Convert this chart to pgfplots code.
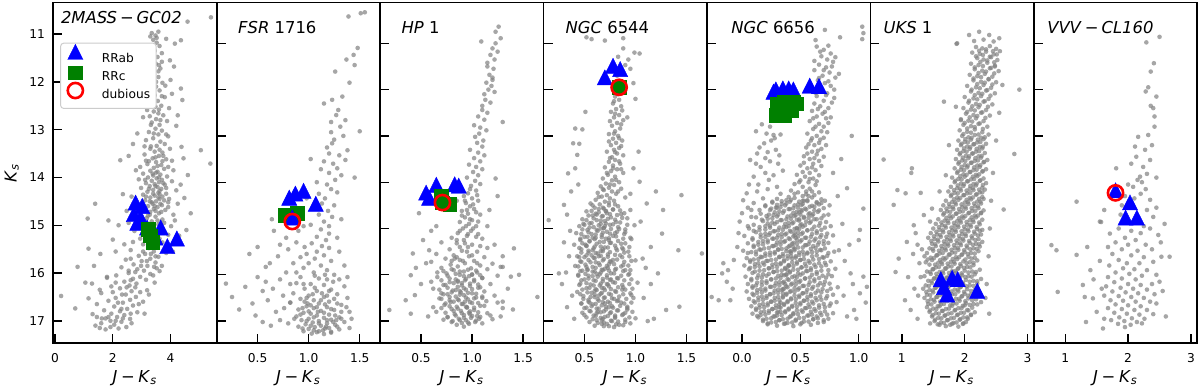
\documentclass[border=0pt]{standalone}
\usepackage{fontspec}
\setmainfont{DejaVu Sans}
\usepackage{pgfplots}
\pgfplotsset{compat=1.18}
\definecolor{mgreen}{rgb}{0,0.5,0}
\newcommand{\tfont}{\fontsize{8.2}{9}\selectfont}
\newcommand{\kfont}{\fontsize{6.1}{7}\selectfont}
\newcommand{\JK}{\textit{J}\hspace{0.22em}−\hspace{0.22em}\textit{K}\textsubscript{\textit{s}}}
\tikzset{ttl/.style={anchor=base west, inner sep=0pt, font=\tfont}}
\pgfplotsset{
 limg/.style={legend image code/.code={%
   \path[draw=none, fill=none] (0pt,0.7pt) rectangle (17.65pt,6.7pt);
   \draw[overlay, mark repeat=2,mark phase=2,##1] plot coordinates {(0pt,2.5pt)(6.35pt,2.5pt)(12.7pt,2.5pt)};}},
 panel/.style={
   at={(#1)}, anchor=south west, scale only axis, width=81.71pt, height=170.4pt,
   y dir=reverse, ymin=10.118, ymax=17.48,
   ytick={11,12,13,14,15,16,17}, yticklabels={},
   tick align=inside, xtick pos=left, ytick pos=left,
   major tick length=4.5pt,
   major tick style={black, line width=0.7pt},
   axis line style={line width=0.85pt},
   tick label style={font=\kfont, inner sep=0pt},
   xticklabel style={yshift=-5pt},
   yticklabel style={xshift=-4pt},
   xlabel={\JK},
   every axis x label/.style={at={(axis description cs:0.5,-0.1136)}, anchor=base, inner sep=0pt, font=\tfont},
 },
 gdots/.style={only marks, mark=*, mark size=1.15pt, mark options={draw=gray, fill=gray, line width=0pt, fill opacity=0.7, draw opacity=0}, forget plot},
 rrab/.style={only marks, mark=triangle*, mark size=4.4pt, mark options={draw=blue, fill=blue, line width=0.2pt, yscale=1.15, sharp corners}, limg},
 rrc/.style={only marks, mark=square*, mark size=3.4pt, mark options={draw=mgreen, fill=mgreen, line width=0.2pt, sharp corners}, limg},
 dub/.style={only marks, mark=o, mark size=3.8pt, mark options={draw=red, fill=none, line width=1.3pt}, limg},
}
\begin{document}
\begin{tikzpicture}
\path[use as bounding box] (0,0) rectangle (600pt,195.5pt);
% ---------------- Panel 1 : 2MASS-GC02
\begin{axis}[panel={26.65pt,23.85pt}, xmin=-0.06, xmax=5.60, xtick={0,2,4}, xticklabels={0,2,4},
  ymin=10.34, ymax=17.47, yticklabels={11,12,13,14,15,16,17},
  ylabel={\textit{K}\textsubscript{\textit{s}}},
  every axis y label/.style={at={(axis description cs:-0.224,0.5)}, rotate=90, anchor=base, inner sep=0pt, font=\tfont},
  legend style={at={(axis description cs:0.042,0.882)}, anchor=north west, draw=black!20, line width=0.5pt, fill=white, rounded corners=1.5pt, inner xsep=1pt, inner ysep=1.4pt, font=\kfont, row sep=-2.7pt},
  legend cell align=left]
\addplot[gdots] table {
x y
3.35 10.98
3.48 11.03
3.58 10.95
5.40 10.65
4.59 10.74
3.40 11.12
3.52 11.18
3.62 11.25
3.31 11.30
3.45 11.35
4.36 11.13
3.70 11.40
3.10 11.44
3.55 11.48
3.38 11.55
3.49 11.62
4.12 11.68
3.65 11.72
3.28 11.78
3.42 11.85
3.58 11.90
4.00 11.96
3.72 12.02
3.35 12.05
3.50 12.10
4.36 12.14
3.62 12.18
3.20 12.22
3.45 12.28
3.80 12.32
4.41 12.38
3.56 12.40
3.30 12.45
3.68 12.50
3.95 12.55
3.19 12.59
3.42 12.62
3.58 12.66
3.75 12.70
3.05 12.74
3.50 12.78
3.88 12.82
3.35 12.85
3.62 12.90
4.20 12.92
2.85 13.08
3.48 12.98
3.70 13.02
3.25 13.05
3.58 13.10
3.92 13.14
3.40 13.18
3.15 13.22
3.65 13.25
3.80 13.30
3.52 13.34
4.38 13.36
3.30 13.40
5.05 13.43
3.45 13.46
3.72 13.48
3.10 13.52
3.60 13.55
2.26 13.64
3.38 13.60
3.85 13.62
5.38 13.71
3.50 13.68
3.20 13.72
3.68 13.74
2.95 13.78
3.42 13.80
3.78 13.82
4.10 13.85
3.30 13.86
3.55 13.88
3.05 13.92
3.65 13.94
3.40 13.96
3.88 13.98
3.22 14.00
3.52 14.02
2.90 14.04
3.70 14.05
3.35 14.07
4.05 14.08
3.60 14.10
3.15 14.12
3.45 14.14
3.80 14.15
3.28 14.18
3.55 14.20
2.98 14.22
3.68 14.24
3.40 14.26
4.20 14.27
3.20 14.30
3.58 14.32
3.85 14.34
3.05 14.36
3.45 14.38
3.72 14.40
3.30 14.42
4.48 14.43
3.62 14.45
3.12 14.48
3.50 14.50
3.92 14.52
1.39 14.55
3.38 14.55
3.70 14.58
3.22 14.60
3.55 14.62
4.70 14.75
3.42 14.66
3.82 14.68
3.30 14.72
1.13 14.86
3.60 14.75
4.10 14.78
3.48 14.82
3.18 14.85
3.72 14.88
3.35 14.92
2.55 14.95
3.58 14.98
4.02 15.02
3.28 15.05
3.45 15.10
2.75 15.12
3.65 15.15
3.15 15.20
3.50 15.25
4.30 15.22
2.95 15.28
3.38 15.32
3.72 15.36
3.05 15.40
1.16 15.49
3.55 15.44
3.25 15.48
2.62 15.52
3.42 15.55
3.85 15.58
3.12 15.60
2.90 15.64
3.58 15.66
3.30 15.70
0.78 15.87
2.45 15.72
3.00 15.75
3.48 15.78
2.72 15.82
3.20 15.85
3.43 15.87
2.30 15.88
2.85 15.92
3.08 15.95
3.62 15.96
2.55 16.00
3.30 16.02
2.12 16.05
2.95 16.08
2.70 16.12
3.15 16.14
1.80 16.10
2.40 16.18
3.45 16.20
2.82 16.22
2.58 16.26
1.95 16.28
3.19 16.36
2.25 16.32
2.65 16.38
2.95 16.40
1.60 16.42
2.45 16.45
2.80 16.50
1.16 16.53
2.10 16.52
0.21 16.48
2.60 16.56
1.85 16.58
2.35 16.62
3.05 16.60
1.45 16.65
2.70 16.68
2.05 16.70
0.70 16.74
2.50 16.75
1.70 16.78
2.25 16.80
2.85 16.82
1.95 16.85
1.30 16.86
2.40 16.88
2.15 16.92
1.45 16.92
1.75 16.95
2.60 16.96
1.92 17.00
2.30 17.02
1.60 17.05
2.05 17.08
1.92 17.13
2.47 17.13
1.40 17.10
2.20 17.16
1.75 17.18
2.40 15.40
1.57 15.60
2.10 15.55
1.80 16.08
1.28 16.22
2.70 15.35
2.20 15.00
2.48 14.70
2.65 14.40
2.80 13.85
2.70 13.30
4.60 13.95
4.35 14.15
4.45 13.60
4.25 12.70
4.05 12.25
3.98 11.55
4.15 11.20
3.85 11.10
3.25 11.62
3.60 12.58
3.32 12.90
3.75 13.55
3.50 13.90
3.62 14.35
3.35 14.52
3.48 14.70
3.78 14.95
3.92 15.20
4.08 15.55
3.70 15.85
3.40 16.05
3.25 16.45
2.90 16.65
3.10 16.85
2.65 17.05
1.55 16.35
1.05 16.20
1.35 15.85
2.00 15.30
1.85 14.90
2.35 14.35
3.95 14.45
4.15 14.90
4.55 15.10
3.15 13.65
3.98 13.40
2.55 13.55
3.58 11.78
3.42 12.45
3.15 12.35
3.82 12.08
3.70 11.58
3.30 11.05
3.92 13.78
3.28 14.78
3.62 15.28
3.52 15.90
2.78 16.30
2.35 16.95
2.00 16.40
2.55 15.95
3.05 15.55
3.32 13.35
3.62 13.42
3.48 13.58
3.25 13.66
3.72 13.66
3.55 13.76
3.38 13.92
3.60 14.00
3.12 14.05
3.75 14.12
3.48 14.18
3.25 14.24
3.62 14.28
3.85 14.22
3.40 14.34
3.15 14.40
3.58 14.42
3.78 14.48
3.28 14.50
3.65 14.55
3.45 14.60
3.92 14.62
3.68 14.72
3.22 14.80
3.55 14.90
3.42 15.00
3.70 15.05
3.58 15.18
3.32 15.60
3.48 15.65
3.18 15.75
2.98 15.85
2.78 15.98
2.62 16.15
2.48 16.30
2.32 16.45
2.18 16.62
2.62 16.85
1.85 16.92
2.10 17.00
3.52 11.08
3.42 11.45
3.60 11.65
3.50 12.00
3.38 12.18
3.70 12.30
3.48 12.52
3.28 12.72
3.65 12.80
3.42 13.08
3.85 13.10
3.10 13.35
4.05 13.65
4.25 14.55
2.85 14.65
2.62 15.70
2.10 16.20
1.62 16.95
1.55 17.15
2.30 16.75
};
\addplot[rrab] coordinates {(2.79,14.58)(3.02,14.65)(2.73,14.82)(2.96,14.89)(2.85,15.00)(3.19,15.10)(3.66,15.10)(3.48,15.31)(3.89,15.49)(4.22,15.33)};
\addlegendentry{RRab}
\addplot[rrc] coordinates {(3.22,15.08)(3.30,15.22)(3.38,15.36)};
\addlegendentry{RRc}
\addlegendimage{dub}
\addlegendentry{dubious}
\node[ttl] at (axis description cs:0.045,0.939) {\textit{2MASS}\hspace{0.18em}−\hspace{0.18em}\textit{GC02}};
\end{axis}
% ---------------- Panel 2 : FSR 1716
\begin{axis}[panel={108.36pt,23.85pt}, xmin=0.1, xmax=1.7, xtick={0.5,1.0,1.5}, xticklabels={0.5,1.0,1.5}]
\addplot[gdots] table {
x y
1.51 10.35
1.55 10.33
1.39 10.42
1.44 11.25
1.45 11.47
1.26 11.61
1.40 11.85
1.33 12.15
1.23 12.22
1.15 12.30
1.29 12.44
1.36 12.66
1.27 12.55
1.31 12.80
1.22 12.92
1.34 13.00
1.25 13.08
1.23 13.16
1.18 13.25
1.38 13.31
1.20 13.38
1.30 13.42
1.36 13.52
1.15 13.55
1.24 13.60
1.28 13.70
1.12 13.72
1.20 13.80
1.32 13.85
1.26 13.95
1.08 14.00
1.18 14.05
1.22 14.15
1.28 14.22
1.10 14.25
1.16 14.35
1.13 14.46
1.25 14.50
1.05 14.55
1.19 14.62
1.23 14.75
1.10 14.70
1.15 14.85
1.02 14.92
1.20 14.95
1.12 15.02
1.20 15.11
1.08 15.18
1.17 15.25
1.03 15.32
1.13 15.38
1.20 15.42
1.08 15.50
0.98 15.55
1.15 15.58
1.06 15.65
1.22 15.70
1.00 15.75
1.12 15.80
0.95 15.85
1.18 15.90
1.05 15.95
1.25 16.00
0.92 16.05
1.10 16.08
1.30 16.10
0.88 16.18
1.02 16.20
1.15 16.22
1.35 16.25
0.96 16.30
1.22 16.32
1.08 16.35
0.85 16.40
1.28 16.42
1.00 16.45
1.15 16.48
1.38 16.50
0.92 16.52
1.05 16.55
1.20 16.58
0.82 16.60
1.10 16.62
1.32 16.65
0.98 16.68
1.18 16.70
1.05 16.72
0.90 16.75
1.25 16.76
1.12 16.78
1.40 16.80
0.95 16.82
1.02 16.84
1.20 16.86
1.08 16.88
0.88 16.90
1.30 16.92
1.15 16.93
1.00 16.95
1.22 16.97
0.93 16.98
1.10 17.00
1.35 17.02
1.04 17.03
1.18 17.05
0.97 17.07
1.26 17.08
1.12 17.10
0.90 17.12
1.06 17.13
1.20 17.15
1.00 17.17
1.30 17.18
1.14 17.20
0.95 17.22
1.08 17.24
1.22 17.23
1.03 17.27
1.17 17.12
1.27 16.98
1.09 16.80
0.99 16.62
1.13 16.40
1.24 16.15
1.42 16.95
1.40 17.15
1.37 16.70
0.86 16.95
0.80 17.05
1.16 16.00
1.06 16.02
0.58 15.83
0.38 16.26
0.25 16.48
0.19 16.19
0.45 16.62
0.55 17.02
0.62 15.75
0.70 15.60
0.50 16.05
0.65 16.30
0.72 16.10
0.78 15.95
0.60 16.55
0.68 16.80
0.75 16.45
0.82 16.20
0.55 16.35
0.48 16.88
0.63 17.10
0.72 16.98
0.80 15.45
0.88 15.30
0.92 15.62
0.85 15.75
0.78 15.20
0.90 15.05
0.95 14.95
0.72 15.35
0.66 15.05
0.96 15.40
0.88 15.95
0.42 15.55
0.32 16.75
0.58 16.15
0.50 15.40
0.82 16.60
0.76 16.72
0.64 14.80
1.30 15.50
1.35 15.80
1.28 15.20
1.38 16.05
1.32 14.80
1.45 13.90
1.50 12.90
1.02 13.50
0.98 14.35
1.48 11.10
1.37 11.35
1.22 12.70
1.04 16.42
1.18 16.45
1.25 16.52
0.96 16.58
1.12 16.55
1.28 16.62
1.02 16.66
1.16 16.64
0.94 16.72
1.08 16.70
1.22 16.74
1.32 16.80
1.00 16.79
1.15 16.82
1.26 16.88
0.92 16.86
1.05 16.92
1.18 16.98
1.32 16.95
0.98 17.00
1.10 17.05
1.24 17.02
1.02 17.10
1.16 17.16
1.28 17.12
0.94 17.16
1.10 17.22
1.22 17.25
1.05 17.20
1.15 17.28
0.98 16.50
1.20 16.35
1.06 16.28
0.95 16.20
1.18 16.10
};
\addplot[rrc] coordinates {(0.77,14.71)(0.89,14.67)(0.83,14.73)};
\addplot[rrab] coordinates {(0.81,14.39)(0.87,14.30)(0.95,14.24)(1.07,14.52)(0.84,14.82)};
\addplot[dub] coordinates {(0.84,14.85)};
\node[ttl] at (axis description cs:0.129,0.9096) {\textit{FSR} 1716};
\end{axis}
% ---------------- Panel 3 : HP 1
\begin{axis}[panel={190.07pt,23.85pt}, xmin=0.1, xmax=1.7, xtick={0.5,1.0,1.5}, xticklabels={0.5,1.0,1.5}]
\addplot[gdots] table {
x y
1.26 10.64
1.23 10.75
1.28 10.89
1.09 10.96
1.23 11.00
1.20 11.11
1.25 11.18
1.18 11.25
1.22 11.35
1.15 11.42
1.15 11.50
1.21 11.55
1.17 11.68
1.20 11.74
1.20 11.79
1.14 11.85
1.19 11.92
1.16 12.00
1.22 12.05
1.12 12.10
1.13 12.22
1.18 12.28
1.10 12.35
1.10 12.44
1.15 12.50
1.06 12.58
1.12 12.65
1.02 12.77
1.08 12.82
1.14 12.88
1.07 12.95
1.03 13.02
1.11 13.10
1.05 13.15
1.10 13.23
0.98 13.30
1.06 13.36
1.12 13.42
1.02 13.48
1.08 13.55
1.04 13.67
0.97 13.62
1.10 13.72
1.01 13.78
1.06 13.85
1.23 13.92
0.95 13.90
1.03 13.97
1.08 14.04
0.99 14.08
0.96 14.24
1.04 14.18
0.92 14.30
1.00 14.35
1.06 14.40
0.94 14.45
0.98 14.52
1.02 14.58
0.90 14.62
0.96 14.68
1.08 14.70
0.93 14.76
1.00 14.82
0.88 14.86
0.97 14.90
1.04 14.95
0.91 15.00
0.99 15.05
0.86 15.10
1.06 15.12
0.95 15.16
0.80 15.20
1.10 15.22
0.92 15.25
0.70 15.30
0.85 15.32
1.00 15.35
0.96 15.40
1.15 15.42
0.78 15.45
0.90 15.48
1.05 15.50
0.65 15.55
0.82 15.58
0.97 15.60
1.12 15.62
0.74 15.65
0.88 15.68
1.02 15.70
0.60 15.72
0.93 15.75
1.20 15.76
0.79 15.78
1.08 15.80
0.86 15.82
0.70 15.85
0.99 15.86
1.15 15.88
0.82 15.90
0.92 15.93
1.05 15.95
0.75 15.97
0.88 16.00
1.25 16.02
0.97 16.03
0.66 16.05
1.10 16.07
0.84 16.10
0.93 16.12
1.02 16.14
0.78 16.16
0.90 16.18
1.18 16.20
0.72 16.22
0.98 16.24
0.86 16.26
1.06 16.28
0.62 16.30
0.94 16.32
0.81 16.34
1.12 16.36
0.89 16.38
1.00 16.40
0.76 16.42
0.92 16.44
1.22 16.45
0.84 16.47
1.04 16.49
0.68 16.51
0.96 16.53
0.87 16.55
1.14 16.57
0.79 16.59
1.00 16.61
0.91 16.63
0.73 16.65
1.08 16.67
0.85 16.69
0.95 16.71
1.30 16.72
0.80 16.74
1.02 16.76
0.89 16.78
0.65 16.80
0.97 16.82
1.15 16.83
0.83 16.85
0.92 16.87
1.05 16.89
0.76 16.91
0.99 16.93
0.87 16.95
1.20 16.96
0.94 16.98
0.81 17.00
1.03 17.02
0.90 17.04
0.97 17.06
0.85 17.08
1.10 17.05
0.92 17.12
0.72 16.97
0.95 16.70
0.88 16.35
1.00 16.00
0.83 15.65
1.10 16.50
0.98 16.85
0.86 16.15
0.93 16.58
1.07 16.95
0.78 16.55
1.25 16.60
1.18 16.88
0.70 16.40
0.62 16.70
0.66 15.95
1.28 15.83
1.30 15.60
1.22 15.35
0.55 15.75
0.58 15.47
0.60 16.15
0.57 16.90
0.48 14.67
0.52 15.25
0.42 15.54
0.40 16.01
0.44 16.44
0.40 16.84
0.19 16.76
0.50 16.20
0.35 16.55
0.45 15.85
1.41 15.43
1.38 16.04
1.46 16.00
1.64 16.48
1.30 16.58
1.28 16.90
1.35 16.30
1.30 15.83
1.40 16.75
0.65 14.95
0.72 14.55
1.17 14.60
1.25 14.30
1.15 14.95
0.60 15.05
1.30 12.70
0.85 14.40
0.72 15.92
0.80 15.88
0.88 15.93
0.96 15.89
1.04 15.91
0.76 16.02
0.84 15.98
0.92 16.03
1.00 15.99
1.08 16.01
0.70 16.12
0.78 16.08
0.86 16.13
0.94 16.09
1.02 16.11
1.10 16.07
0.74 16.22
0.82 16.18
0.90 16.23
0.98 16.19
1.06 16.21
0.68 16.32
0.76 16.28
0.84 16.33
0.92 16.29
1.00 16.31
1.08 16.27
0.72 16.42
0.80 16.38
0.88 16.43
0.96 16.39
1.04 16.41
0.70 16.52
0.78 16.48
0.86 16.53
0.94 16.49
1.02 16.51
1.10 16.47
0.74 16.62
0.82 16.58
0.90 16.63
0.98 16.59
1.06 16.61
0.70 16.72
0.78 16.68
0.86 16.73
0.94 16.69
1.02 16.71
1.12 16.67
0.74 16.82
0.82 16.78
0.90 16.83
0.98 16.79
1.06 16.81
0.76 16.92
0.84 16.88
0.92 16.93
1.00 16.89
1.08 16.91
0.80 17.02
0.88 16.98
0.96 17.03
1.04 16.99
0.98 14.15
1.05 14.28
0.93 14.40
1.01 14.48
0.95 14.60
1.04 14.65
0.90 14.72
0.98 14.80
1.06 14.85
0.94 14.95
1.01 15.00
0.88 15.05
0.96 15.12
1.04 15.18
0.85 15.25
0.93 15.32
1.08 15.38
0.88 15.40
0.95 15.50
1.00 15.58
0.85 15.62
0.91 15.70
1.05 15.75
0.80 15.70
};
\addplot[rrab] coordinates {(0.55,14.28)(0.65,14.11)(0.83,14.10)(0.87,14.13)(0.58,14.39)};
\addplot[rrc] coordinates {(0.70,14.30)(0.78,14.48)(0.71,14.44)};
\addplot[dub] coordinates {(0.71,14.44)};
\node[ttl] at (axis description cs:0.129,0.9096) {\textit{HP} 1};
\end{axis}
% ---------------- Panel 4 : NGC 6544
\begin{axis}[panel={271.78pt,23.85pt}, xmin=0.1, xmax=1.7, xtick={0.5,1.0,1.5}, xticklabels={0.5,1.0,1.5}]
\addplot[gdots] table {
x y
0.52 10.87
0.57 10.91
0.70 10.94
0.88 10.89
0.88 11.11
0.99 11.20
1.04 11.22
0.93 11.35
0.83 11.29
0.90 11.47
0.98 11.86
0.87 11.62
0.82 11.70
0.86 12.05
0.80 12.15
0.84 12.22
0.78 12.30
0.86 12.36
0.81 12.42
0.76 12.48
0.84 12.55
0.79 12.60
0.88 12.66
0.82 12.72
0.77 12.78
0.85 12.84
0.80 12.90
0.74 12.96
0.83 13.00
0.78 13.06
0.87 13.10
0.81 13.15
0.76 13.20
0.84 13.26
0.79 13.30
0.72 13.34
0.82 13.38
0.88 13.42
0.77 13.46
0.80 13.52
0.74 13.56
0.85 13.60
0.78 13.64
0.70 13.68
0.82 13.72
0.76 13.76
0.88 13.80
0.73 13.84
0.80 13.88
0.68 13.92
0.77 13.96
0.84 14.00
0.71 14.03
0.79 14.06
0.66 14.09
0.74 14.12
0.86 14.14
0.69 14.17
0.77 14.20
0.63 14.23
0.81 14.25
0.72 14.28
0.67 14.31
0.90 14.33
0.75 14.35
0.61 14.38
0.79 14.40
0.70 14.42
0.56 14.46
0.65 14.48
0.74 14.50
0.83 14.52
0.60 14.55
0.69 14.57
0.78 14.59
0.95 14.60
0.52 14.63
0.64 14.65
0.72 14.67
0.86 14.69
0.58 14.72
0.67 14.74
0.76 14.76
0.92 14.78
0.48 14.80
0.62 14.82
0.70 14.84
0.81 14.86
0.55 14.89
0.66 14.90
0.75 14.92
0.99 14.93
0.45 14.95
0.59 14.97
0.69 14.99
0.84 15.01
0.53 15.03
0.63 15.05
0.72 15.07
0.90 15.08
0.42 15.10
0.57 15.12
0.67 15.14
0.78 15.16
0.50 15.18
0.61 15.20
0.71 15.22
0.96 15.23
0.46 15.25
0.55 15.27
0.65 15.29
0.75 15.31
0.86 15.33
0.40 15.35
0.52 15.37
0.60 15.39
0.70 15.41
0.81 15.43
0.47 15.45
0.58 15.47
0.66 15.49
0.93 15.50
0.54 15.52
0.63 15.54
0.73 15.56
0.85 15.58
0.43 15.60
0.50 15.62
0.60 15.64
0.69 15.66
0.78 15.68
1.00 15.69
0.46 15.71
0.56 15.73
0.64 15.75
0.74 15.77
0.88 15.79
0.41 15.81
0.52 15.83
0.61 15.85
0.70 15.87
0.80 15.89
0.48 15.91
0.58 15.93
0.66 15.95
0.76 15.97
0.94 15.98
0.44 16.00
0.54 16.02
0.63 16.04
0.72 16.06
0.83 16.08
0.50 16.10
0.59 16.12
0.68 16.14
0.78 16.16
1.02 16.17
0.46 16.19
0.56 16.21
0.65 16.23
0.74 16.25
0.88 16.27
0.52 16.29
0.61 16.31
0.70 16.33
0.80 16.35
0.43 16.37
0.57 16.39
0.66 16.41
0.76 16.43
0.96 16.44
0.49 16.46
0.60 16.48
0.69 16.50
0.79 16.52
0.54 16.54
0.64 16.56
0.73 16.58
0.86 16.60
0.47 16.62
0.58 16.64
0.67 16.66
0.77 16.68
0.92 16.69
0.52 16.71
0.62 16.73
0.71 16.75
0.82 16.77
0.56 16.79
0.66 16.81
0.75 16.83
0.88 16.85
0.50 16.87
0.61 16.89
0.70 16.91
0.80 16.93
1.00 16.94
0.58 16.96
0.67 16.98
0.77 17.00
0.90 17.02
0.63 17.04
0.72 17.06
0.84 17.08
0.95 17.05
0.69 17.11
0.79 17.13
0.62 14.70
0.70 14.95
0.58 15.20
0.68 15.45
0.76 15.72
0.62 15.98
0.72 16.20
0.64 16.45
0.74 16.70
0.68 16.95
0.66 15.00
0.74 15.25
0.64 15.60
0.68 15.90
0.76 16.10
0.60 16.35
0.70 16.62
0.80 16.88
0.57 15.58
0.73 15.85
0.67 16.28
0.83 16.55
0.63 16.80
0.71 14.62
0.80 15.10
0.88 15.45
0.90 15.90
0.87 16.32
0.92 16.75
0.53 15.90
0.55 16.60
0.51 15.35
0.49 14.90
0.51 12.48
0.41 12.84
0.48 12.86
0.39 13.16
0.45 13.17
0.43 13.41
0.41 13.70
0.34 13.81
0.44 14.05
0.37 14.20
0.30 14.49
0.15 14.82
0.33 14.70
0.36 15.05
0.30 15.30
0.35 15.60
0.32 15.95
0.25 15.97
0.28 16.20
0.38 16.45
0.33 16.70
0.40 16.95
1.45 14.28
1.27 14.60
1.26 15.11
1.42 15.47
1.65 15.54
1.11 14.46
1.04 13.99
1.03 13.34
1.22 15.97
1.30 16.76
1.43 16.69
1.15 15.40
1.10 15.85
1.08 16.50
1.18 16.95
1.12 17.00
1.05 14.85
1.20 14.20
0.95 14.25
0.98 13.70
1.15 16.20
1.07 15.65
0.92 12.60
0.95 11.55
1.00 12.20
};
\addplot[gdots] table {
x y
0.57 14.62
0.64 14.58
0.71 14.63
0.78 14.59
0.85 14.61
0.54 14.72
0.61 14.68
0.68 14.73
0.75 14.69
0.82 14.71
0.89 14.67
0.52 14.82
0.59 14.78
0.66 14.83
0.73 14.79
0.80 14.81
0.87 14.77
0.50 14.92
0.57 14.88
0.64 14.93
0.71 14.89
0.78 14.91
0.85 14.87
0.92 14.92
0.48 15.02
0.55 14.98
0.62 15.03
0.69 14.99
0.76 15.01
0.83 14.97
0.90 15.02
0.47 15.12
0.54 15.08
0.61 15.13
0.68 15.09
0.75 15.11
0.82 15.07
0.89 15.12
0.46 15.22
0.53 15.18
0.60 15.23
0.67 15.19
0.74 15.21
0.81 15.17
0.88 15.22
0.95 15.20
0.48 15.32
0.55 15.28
0.62 15.33
0.69 15.29
0.76 15.31
0.83 15.27
0.90 15.32
0.45 15.42
0.52 15.38
0.59 15.43
0.66 15.39
0.73 15.41
0.80 15.37
0.87 15.42
0.94 15.40
0.47 15.52
0.54 15.48
0.61 15.53
0.68 15.49
0.75 15.51
0.82 15.47
0.89 15.52
0.45 15.62
0.52 15.58
0.59 15.63
0.66 15.59
0.73 15.61
0.80 15.57
0.87 15.62
0.94 15.60
0.47 15.72
0.54 15.68
0.61 15.73
0.68 15.69
0.75 15.71
0.82 15.67
0.89 15.72
0.96 15.70
0.44 15.82
0.51 15.78
0.58 15.83
0.65 15.79
0.72 15.81
0.79 15.77
0.86 15.82
0.93 15.80
0.46 15.92
0.53 15.88
0.60 15.93
0.67 15.89
0.74 15.91
0.81 15.87
0.88 15.92
0.95 15.90
0.44 16.02
0.51 15.98
0.58 16.03
0.65 15.99
0.72 16.01
0.79 15.97
0.86 16.02
0.93 16.00
0.47 16.12
0.54 16.08
0.61 16.13
0.68 16.09
0.75 16.11
0.82 16.07
0.89 16.12
0.96 16.10
0.45 16.22
0.52 16.18
0.59 16.23
0.66 16.19
0.73 16.21
0.80 16.17
0.87 16.22
0.94 16.20
0.48 16.32
0.55 16.28
0.62 16.33
0.69 16.29
0.76 16.31
0.83 16.27
0.90 16.32
0.97 16.30
0.46 16.42
0.53 16.38
0.60 16.43
0.67 16.39
0.74 16.41
0.81 16.37
0.88 16.42
0.95 16.40
0.49 16.52
0.56 16.48
0.63 16.53
0.70 16.49
0.77 16.51
0.84 16.47
0.91 16.52
0.98 16.50
0.47 16.62
0.54 16.58
0.61 16.63
0.68 16.59
0.75 16.61
0.82 16.57
0.89 16.62
0.96 16.60
0.50 16.72
0.57 16.68
0.64 16.73
0.71 16.69
0.78 16.71
0.85 16.67
0.92 16.72
0.48 16.82
0.55 16.78
0.62 16.83
0.69 16.79
0.76 16.81
0.83 16.77
0.90 16.82
0.97 16.80
0.52 16.92
0.59 16.88
0.66 16.93
0.73 16.89
0.80 16.91
0.87 16.87
0.94 16.92
0.55 17.02
0.62 16.98
0.69 17.03
0.76 16.99
0.83 17.01
0.90 16.97
0.60 17.10
0.67 17.06
0.74 17.11
0.81 17.07
0.88 17.09
0.83 12.10
0.79 12.25
0.87 12.45
0.80 12.52
0.75 12.68
0.86 12.75
0.79 12.95
0.84 13.05
0.74 13.12
0.86 13.22
0.80 13.35
0.75 13.48
0.84 13.55
0.78 13.70
0.86 13.72
0.72 13.80
0.81 13.95
0.75 14.05
0.68 14.15
0.83 14.20
0.64 14.32
0.74 14.44
0.80 14.48
0.58 14.50
0.68 14.55
};
\addplot[rrab] coordinates {(0.70,11.79)(0.78,11.54)(0.85,11.61)};
\addplot[rrc] coordinates {(0.84,11.95)};
\addplot[dub] coordinates {(0.84,11.95)};
\node[ttl] at (axis description cs:0.133,0.9096) {\textit{NGC} 6544};
\end{axis}
% ---------------- Panel 5 : NGC 6656
\begin{axis}[panel={353.49pt,23.85pt}, xmin=-0.3, xmax=1.1, xtick={0,0.5,1}, xticklabels={0.0,0.5,1.0}]
\addplot[gdots] table {
x y
1.03 10.64
1.04 10.78
1.03 10.91
0.71 10.71
0.84 10.87
0.63 10.93
0.64 11.07
0.70 11.14
0.76 11.22
0.68 11.28
0.73 11.35
0.78 11.40
0.66 11.46
0.72 11.52
0.62 11.58
0.75 11.63
0.69 11.70
0.80 11.74
0.65 11.80
0.71 11.86
0.76 11.92
0.60 11.97
0.68 12.02
0.73 12.08
0.64 12.14
0.79 12.18
0.70 12.24
0.62 12.30
0.67 12.36
0.74 12.40
0.60 12.46
0.69 12.52
0.64 12.58
0.72 12.62
0.58 12.68
0.66 12.74
0.70 12.80
0.61 12.85
0.68 12.90
0.56 12.95
0.64 13.00
0.70 13.04
0.59 13.10
0.66 13.15
0.62 13.20
0.55 13.25
0.68 13.28
0.60 13.34
0.64 13.40
0.53 13.44
0.58 13.50
0.66 13.54
0.61 13.60
0.50 13.64
0.56 13.70
0.63 13.74
0.58 13.80
0.47 13.84
0.54 13.88
0.61 13.92
0.50 13.96
0.57 14.00
0.45 14.04
0.63 14.06
0.52 14.10
0.58 14.14
0.42 14.18
0.48 14.22
0.55 14.26
0.62 14.28
0.40 14.32
0.21 12.95
0.27 12.98
0.33 12.97
0.19 13.16
0.25 13.10
0.13 13.38
0.22 13.35
0.29 13.30
0.07 13.52
0.16 13.67
0.24 13.55
0.31 13.60
0.10 13.88
0.20 13.80
0.27 13.85
0.04 14.24
0.14 14.05
0.22 14.15
0.30 14.10
0.01 14.39
0.10 14.45
0.18 14.35
0.26 14.42
0.00 14.67
0.08 14.75
0.15 14.60
0.23 14.70
-0.03 15.10
0.05 14.95
-0.07 15.68
-0.16 15.75
-0.17 15.97
-0.13 16.15
-0.10 16.55
-0.20 16.55
-0.26 16.48
-0.08 16.30
-0.04 15.40
-0.12 15.90
0.12 12.90
0.17 12.75
0.24 12.80
0.94 13.00
0.90 14.13
1.04 14.57
1.01 15.03
1.00 15.25
0.83 15.47
0.88 15.70
0.93 15.97
1.04 16.04
1.07 16.26
1.01 16.40
0.96 16.76
1.06 16.60
0.95 16.20
0.90 16.90
0.85 13.50
0.78 13.80
0.75 14.50
0.82 14.30
0.86 14.90
0.92 15.35
0.98 16.95
0.87 16.45
0.74 11.05
0.67 11.18
0.80 11.30
0.62 11.38
0.77 11.50
0.70 11.58
0.83 11.66
0.66 11.75
0.74 11.82
0.79 12.00
0.63 12.07
0.72 12.12
0.77 12.28
0.65 12.42
0.71 12.48
0.76 12.60
0.61 12.62
0.74 12.72
0.63 12.80
0.73 12.92
0.60 13.05
0.67 13.08
0.72 13.20
0.57 13.18
0.65 13.32
0.70 13.45
0.56 13.38
0.62 13.48
0.68 13.65
0.53 13.58
0.60 13.68
0.66 13.85
0.52 13.78
0.58 13.93
0.64 13.98
0.49 14.00
0.60 14.20
0.45 14.25
0.52 14.30
0.66 14.22
0.28 13.05
0.15 13.25
0.32 13.42
0.20 13.48
0.12 13.60
0.35 13.75
0.23 13.95
0.06 14.05
0.33 14.25
0.13 14.20
0.05 14.55
0.20 14.50
0.30 14.55
-0.02 14.85
0.08 14.60
};
\addplot[gdots] table {
x y
0.30 14.36
0.38 14.39
0.45 14.34
0.52 14.40
0.60 14.33
0.68 14.37
0.26 14.44
0.34 14.47
0.41 14.42
0.48 14.48
0.56 14.41
0.64 14.45
0.71 14.40
0.20 14.52
0.29 14.55
0.37 14.50
0.44 14.56
0.51 14.49
0.58 14.53
0.66 14.48
0.24 14.60
0.32 14.63
0.40 14.58
0.47 14.64
0.54 14.57
0.62 14.61
0.70 14.56
0.16 14.68
0.27 14.71
0.35 14.66
0.42 14.72
0.49 14.65
0.57 14.69
0.65 14.64
0.74 14.70
0.12 14.76
0.22 14.79
0.30 14.74
0.38 14.80
0.45 14.73
0.53 14.77
0.60 14.72
0.68 14.78
0.18 14.84
0.26 14.87
0.33 14.82
0.40 14.88
0.47 14.81
0.55 14.85
0.62 14.80
0.72 14.86
0.10 14.92
0.20 14.95
0.28 14.90
0.36 14.96
0.43 14.89
0.50 14.93
0.58 14.88
0.66 14.94
0.76 14.95
0.06 15.00
0.15 15.03
0.24 14.98
0.31 15.04
0.38 14.97
0.45 15.01
0.52 14.96
0.60 15.02
0.68 15.03
0.12 15.08
0.20 15.11
0.27 15.06
0.34 15.12
0.41 15.05
0.48 15.09
0.56 15.04
0.64 15.10
0.73 15.11
0.02 15.16
0.16 15.19
0.23 15.14
0.30 15.20
0.37 15.13
0.44 15.17
0.51 15.12
0.59 15.18
0.67 15.19
0.78 15.15
0.09 15.24
0.18 15.27
0.26 15.22
0.33 15.28
0.40 15.21
0.47 15.25
0.54 15.20
0.62 15.26
0.70 15.27
0.05 15.32
0.14 15.35
0.22 15.30
0.29 15.36
0.36 15.29
0.43 15.33
0.50 15.28
0.57 15.34
0.65 15.35
0.74 15.31
0.10 15.40
0.19 15.43
0.27 15.38
0.34 15.44
0.41 15.37
0.48 15.41
0.55 15.36
0.63 15.42
0.71 15.43
0.01 15.48
0.08 15.51
0.16 15.46
0.24 15.52
0.31 15.45
0.38 15.49
0.45 15.44
0.52 15.50
0.60 15.51
0.68 15.47
0.79 15.50
0.12 15.56
0.20 15.59
0.28 15.54
0.35 15.60
0.42 15.53
0.49 15.57
0.56 15.52
0.64 15.58
0.73 15.59
0.04 15.64
0.10 15.67
0.17 15.62
0.25 15.68
0.32 15.61
0.39 15.65
0.46 15.60
0.53 15.66
0.61 15.67
0.70 15.63
0.07 15.72
0.14 15.75
0.22 15.70
0.29 15.76
0.36 15.69
0.43 15.73
0.50 15.68
0.58 15.74
0.66 15.75
0.76 15.71
0.02 15.80
0.11 15.83
0.19 15.78
0.26 15.84
0.33 15.77
0.40 15.81
0.47 15.76
0.55 15.82
0.63 15.83
0.72 15.79
0.06 15.88
0.15 15.91
0.23 15.86
0.30 15.92
0.37 15.85
0.44 15.89
0.51 15.84
0.59 15.90
0.68 15.91
0.80 15.87
0.09 15.96
0.18 15.99
0.27 15.94
0.34 16.00
0.41 15.93
0.48 15.97
0.56 15.92
0.64 15.98
0.74 15.99
0.03 16.04
0.13 16.07
0.21 16.02
0.29 16.08
0.36 16.01
0.43 16.05
0.50 16.00
0.58 16.06
0.66 16.07
0.77 16.03
0.08 16.12
0.17 16.15
0.25 16.10
0.32 16.16
0.39 16.09
0.46 16.13
0.54 16.08
0.62 16.14
0.71 16.15
0.05 16.20
0.12 16.23
0.21 16.18
0.28 16.24
0.35 16.17
0.42 16.21
0.49 16.16
0.57 16.22
0.65 16.23
0.75 16.19
0.09 16.28
0.16 16.31
0.24 16.26
0.31 16.32
0.38 16.25
0.45 16.29
0.52 16.24
0.60 16.30
0.69 16.31
0.82 16.27
0.04 16.36
0.13 16.39
0.20 16.34
0.27 16.40
0.34 16.33
0.41 16.37
0.48 16.32
0.55 16.38
0.63 16.39
0.73 16.35
0.10 16.44
0.17 16.47
0.24 16.42
0.31 16.48
0.38 16.41
0.45 16.45
0.52 16.40
0.59 16.46
0.67 16.47
0.78 16.43
0.06 16.52
0.14 16.55
0.21 16.50
0.28 16.56
0.35 16.49
0.42 16.53
0.49 16.48
0.56 16.54
0.64 16.55
0.72 16.51
0.11 16.60
0.18 16.63
0.25 16.58
0.32 16.64
0.39 16.57
0.46 16.61
0.53 16.56
0.61 16.62
0.70 16.63
0.81 16.59
0.08 16.68
0.15 16.71
0.22 16.66
0.29 16.72
0.36 16.65
0.43 16.69
0.50 16.64
0.58 16.70
0.66 16.71
0.75 16.67
0.12 16.76
0.19 16.79
0.26 16.74
0.33 16.80
0.40 16.73
0.47 16.77
0.55 16.72
0.63 16.78
0.71 16.79
0.09 16.84
0.16 16.87
0.23 16.82
0.30 16.88
0.37 16.81
0.44 16.85
0.52 16.80
0.60 16.86
0.68 16.87
0.78 16.83
0.14 16.92
0.21 16.95
0.28 16.90
0.35 16.96
0.42 16.89
0.49 16.93
0.57 16.88
0.65 16.94
0.74 16.95
0.18 17.00
0.25 17.03
0.32 16.98
0.39 17.04
0.46 16.97
0.53 17.01
0.61 16.96
0.70 17.02
0.22 17.07
0.30 17.10
0.37 17.05
0.44 17.11
0.51 17.04
0.59 17.08
0.55 14.20
0.53 14.40
0.51 14.60
0.49 14.80
0.47 15.00
0.46 15.20
0.44 15.40
0.42 15.60
0.40 15.80
0.38 16.00
0.37 16.20
0.35 16.40
0.33 16.60
0.31 16.80
0.57 14.30
0.50 14.70
0.45 15.10
0.41 15.50
0.39 15.90
0.36 16.30
0.32 16.70
};
\addplot[gdots] table {
x y
0.34 14.41
0.42 14.38
0.49 14.42
0.56 14.39
0.64 14.43
0.30 14.49
0.38 14.46
0.45 14.50
0.52 14.47
0.60 14.51
0.68 14.45
0.25 14.57
0.33 14.54
0.41 14.58
0.48 14.55
0.55 14.59
0.62 14.53
0.28 14.65
0.36 14.62
0.44 14.66
0.51 14.63
0.58 14.67
0.66 14.61
0.21 14.73
0.31 14.70
0.39 14.74
0.46 14.71
0.53 14.75
0.61 14.69
0.70 14.72
0.17 14.81
0.26 14.78
0.34 14.82
0.42 14.79
0.49 14.83
0.57 14.77
0.64 14.80
0.22 14.89
0.30 14.86
0.37 14.90
0.44 14.87
0.51 14.91
0.59 14.85
0.67 14.88
0.15 14.97
0.24 14.94
0.32 14.98
0.40 14.95
0.47 14.99
0.54 14.93
0.62 14.96
0.71 14.98
0.10 15.05
0.20 15.02
0.28 15.06
0.35 15.03
0.42 15.07
0.49 15.01
0.56 15.04
0.64 15.06
0.16 15.13
0.24 15.10
0.31 15.14
0.38 15.11
0.45 15.15
0.52 15.09
0.60 15.12
0.68 15.14
0.09 15.21
0.20 15.18
0.27 15.22
0.34 15.19
0.41 15.23
0.48 15.17
0.55 15.20
0.63 15.22
0.72 15.18
0.14 15.29
0.22 15.26
0.30 15.30
0.37 15.27
0.44 15.31
0.51 15.25
0.58 15.28
0.66 15.30
0.10 15.37
0.18 15.34
0.26 15.38
0.33 15.35
0.40 15.39
0.47 15.33
0.54 15.36
0.61 15.38
0.70 15.34
0.15 15.45
0.23 15.42
0.31 15.46
0.38 15.43
0.45 15.47
0.52 15.41
0.59 15.44
0.67 15.46
0.05 15.53
0.12 15.50
0.20 15.54
0.28 15.51
0.35 15.55
0.42 15.49
0.49 15.52
0.56 15.54
0.64 15.50
0.74 15.53
0.16 15.61
0.24 15.58
0.32 15.62
0.39 15.59
0.46 15.63
0.53 15.57
0.60 15.60
0.69 15.62
0.07 15.69
0.14 15.66
0.21 15.70
0.29 15.67
0.36 15.71
0.43 15.65
0.50 15.68
0.57 15.70
0.66 15.66
0.11 15.77
0.18 15.74
0.26 15.78
0.33 15.75
0.40 15.79
0.47 15.73
0.54 15.76
0.62 15.78
0.71 15.74
0.07 15.85
0.15 15.82
0.23 15.86
0.30 15.83
0.37 15.87
0.44 15.81
0.51 15.84
0.59 15.86
0.68 15.82
0.11 15.93
0.19 15.90
0.27 15.94
0.34 15.91
0.41 15.95
0.48 15.89
0.55 15.92
0.64 15.94
0.74 15.90
0.14 16.01
0.23 15.98
0.31 16.02
0.38 15.99
0.45 16.03
0.52 15.97
0.60 16.00
0.69 16.02
0.08 16.09
0.17 16.06
0.25 16.10
0.33 16.07
0.40 16.11
0.47 16.05
0.54 16.08
0.62 16.10
0.72 16.06
0.13 16.17
0.21 16.14
0.29 16.18
0.36 16.15
0.43 16.19
0.50 16.13
0.58 16.16
0.67 16.18
0.09 16.25
0.17 16.22
0.25 16.26
0.32 16.23
0.39 16.27
0.46 16.21
0.53 16.24
0.61 16.26
0.70 16.22
0.13 16.33
0.20 16.30
0.28 16.34
0.35 16.31
0.42 16.35
0.49 16.29
0.56 16.32
0.65 16.34
0.76 16.30
0.09 16.41
0.17 16.38
0.24 16.42
0.31 16.39
0.38 16.43
0.45 16.37
0.52 16.40
0.59 16.42
0.68 16.38
0.14 16.49
0.21 16.46
0.28 16.50
0.35 16.47
0.42 16.51
0.49 16.45
0.56 16.48
0.63 16.50
0.73 16.46
0.10 16.57
0.18 16.54
0.25 16.58
0.32 16.55
0.39 16.59
0.46 16.53
0.53 16.56
0.60 16.58
0.68 16.54
0.15 16.65
0.22 16.62
0.29 16.66
0.36 16.63
0.43 16.67
0.50 16.61
0.57 16.64
0.66 16.66
0.76 16.62
0.12 16.73
0.19 16.70
0.26 16.74
0.33 16.71
0.40 16.75
0.47 16.69
0.54 16.72
0.62 16.74
0.71 16.70
0.16 16.81
0.23 16.78
0.30 16.82
0.37 16.79
0.44 16.83
0.51 16.77
0.59 16.80
0.67 16.82
0.13 16.89
0.20 16.86
0.27 16.90
0.34 16.87
0.41 16.91
0.48 16.85
0.56 16.88
0.64 16.90
0.73 16.86
0.18 16.97
0.25 16.94
0.32 16.98
0.39 16.95
0.46 16.99
0.53 16.93
0.61 16.96
0.70 16.98
0.22 17.05
0.29 17.02
0.36 17.06
0.43 17.03
0.50 17.07
0.57 17.01
0.65 17.04
};
\addplot[rrab] coordinates {(0.29,12.05)(0.35,12.03)(0.40,12.03)(0.44,12.05)(0.27,12.10)(0.58,11.97)(0.66,11.98)};
\addplot[rrc] coordinates {(0.30,12.30)(0.36,12.27)(0.44,12.26)(0.47,12.30)(0.29,12.55)(0.36,12.56)(0.42,12.45)(0.31,12.45)};
\node[ttl] at (axis description cs:0.147,0.9096) {\textit{NGC} 6656};
\end{axis}
% ---------------- Panel 6 : UKS 1
\begin{axis}[panel={435.20pt,23.85pt}, xmin=0.5, xmax=3.1, xtick={1,2,3}, xticklabels={1,2,3}]
\addplot[gdots] table {
x y
2.07 10.82
2.23 10.75
2.39 10.82
2.55 10.89
1.88 11.00
2.30 10.92
2.46 10.96
2.15 10.95
2.18 11.08
2.28 11.11
2.40 11.06
2.50 11.12
2.12 11.20
2.24 11.23
2.34 11.18
2.46 11.24
2.56 11.17
2.20 11.32
2.30 11.35
2.42 11.30
2.52 11.36
2.10 11.44
2.22 11.47
2.36 11.42
2.48 11.48
2.16 11.56
2.28 11.59
2.40 11.54
2.54 11.60
2.08 11.68
2.20 11.71
2.32 11.66
2.44 11.72
2.14 11.80
2.26 11.83
2.38 11.78
2.50 11.84
2.04 11.92
2.18 11.95
2.30 11.90
2.42 11.96
2.10 12.04
2.22 12.07
2.34 12.02
2.48 12.08
2.00 12.16
2.14 12.19
2.26 12.14
2.38 12.20
2.06 12.28
2.18 12.31
2.30 12.26
2.44 12.32
1.98 12.40
2.10 12.43
2.22 12.38
2.34 12.44
2.02 12.52
2.14 12.55
2.26 12.50
2.40 12.56
1.94 12.64
2.06 12.67
2.18 12.62
2.30 12.68
1.98 12.76
2.10 12.79
2.22 12.74
2.36 12.80
1.92 12.88
2.04 12.91
2.16 12.86
2.28 12.92
1.96 13.00
2.06 13.03
2.16 12.98
2.26 13.04
2.38 12.97
1.90 13.10
2.00 13.13
2.10 13.08
2.20 13.14
2.30 13.07
1.94 13.20
2.04 13.23
2.14 13.18
2.24 13.24
2.34 13.17
1.88 13.30
1.98 13.33
2.08 13.28
2.18 13.34
2.28 13.27
1.92 13.40
2.02 13.43
2.12 13.38
2.22 13.44
2.32 13.37
1.86 13.50
1.96 13.53
2.06 13.48
2.16 13.54
2.26 13.47
2.36 13.52
1.90 13.60
2.00 13.63
2.10 13.58
2.20 13.64
2.30 13.57
1.84 13.70
1.94 13.73
2.04 13.68
2.14 13.74
2.24 13.67
2.34 13.72
1.88 13.80
1.98 13.83
2.08 13.78
2.18 13.84
2.28 13.77
1.80 13.90
1.90 13.93
2.00 13.88
2.10 13.94
2.20 13.87
2.30 13.92
1.84 14.00
1.94 14.03
2.04 13.98
2.14 14.04
2.24 13.97
2.34 14.02
1.78 14.10
1.88 14.13
1.98 14.08
2.08 14.14
2.18 14.07
2.28 14.12
1.74 14.20
1.84 14.23
1.94 14.18
2.04 14.24
2.14 14.17
2.24 14.22
2.32 14.16
1.78 14.30
1.88 14.33
1.98 14.28
2.08 14.34
2.18 14.27
2.28 14.32
1.70 14.40
1.80 14.43
1.90 14.38
2.00 14.44
2.10 14.37
2.20 14.42
2.30 14.36
1.66 14.50
1.76 14.53
1.86 14.48
1.96 14.54
2.06 14.47
2.16 14.52
2.26 14.46
1.62 14.60
1.72 14.63
1.82 14.58
1.92 14.64
2.02 14.57
2.12 14.62
2.22 14.56
2.30 14.61
1.66 14.70
1.76 14.73
1.86 14.68
1.96 14.74
2.06 14.67
2.16 14.72
2.26 14.66
1.58 14.80
1.68 14.83
1.78 14.78
1.88 14.84
1.98 14.77
2.08 14.82
2.18 14.76
2.28 14.81
1.54 14.90
1.64 14.93
1.74 14.88
1.84 14.94
1.94 14.87
2.04 14.92
2.14 14.86
2.24 14.91
1.50 15.00
1.60 15.03
1.70 14.98
1.80 15.04
1.90 14.97
2.00 15.02
2.10 14.96
2.20 15.01
2.28 15.03
1.46 15.10
1.56 15.13
1.66 15.08
1.76 15.14
1.86 15.07
1.96 15.12
2.06 15.06
2.16 15.11
2.26 15.13
1.42 15.20
1.52 15.23
1.62 15.18
1.72 15.24
1.82 15.17
1.92 15.22
2.02 15.16
2.12 15.21
2.22 15.23
1.48 15.33
1.58 15.28
1.68 15.34
1.78 15.27
1.88 15.32
1.98 15.26
2.08 15.31
2.18 15.33
2.28 15.29
1.44 15.43
1.54 15.38
1.64 15.44
1.74 15.37
1.84 15.42
1.94 15.36
2.04 15.41
2.14 15.43
2.24 15.39
1.40 15.53
1.50 15.48
1.60 15.54
1.70 15.47
1.80 15.52
1.90 15.46
2.00 15.51
2.10 15.53
2.22 15.49
1.36 15.60
1.46 15.63
1.56 15.58
1.66 15.64
1.76 15.57
1.86 15.62
1.96 15.56
2.06 15.61
2.16 15.63
1.38 15.73
1.48 15.68
1.58 15.74
1.68 15.67
1.78 15.72
1.88 15.66
1.98 15.71
2.08 15.73
2.20 15.69
1.44 15.78
1.54 15.84
1.64 15.77
1.74 15.82
1.84 15.76
1.94 15.81
2.04 15.83
2.14 15.79
1.40 15.93
1.50 15.88
1.60 15.94
1.70 15.87
1.80 15.92
1.90 15.86
2.00 15.91
2.12 15.93
2.24 15.89
1.36 16.03
1.46 15.98
1.56 16.04
1.66 15.97
1.76 16.02
1.86 15.96
1.96 16.01
2.06 16.03
2.16 15.99
1.42 16.13
1.52 16.08
1.62 16.14
1.72 16.07
1.82 16.12
1.92 16.06
2.02 16.11
2.14 16.13
2.26 16.09
1.38 16.23
1.48 16.18
1.58 16.24
1.68 16.17
1.78 16.22
1.88 16.16
1.98 16.21
2.08 16.23
2.20 16.19
1.34 16.30
1.44 16.33
1.54 16.28
1.64 16.34
1.74 16.27
1.84 16.32
1.94 16.26
2.04 16.31
2.16 16.33
1.40 16.43
1.50 16.38
1.60 16.44
1.70 16.37
1.80 16.42
1.90 16.36
2.00 16.41
2.10 16.43
2.22 16.39
1.36 16.50
1.46 16.53
1.56 16.48
1.66 16.54
1.76 16.47
1.86 16.52
1.96 16.46
2.06 16.51
2.18 16.53
1.42 16.63
1.52 16.58
1.62 16.64
1.72 16.57
1.82 16.62
1.92 16.56
2.02 16.61
2.14 16.63
2.26 16.59
1.40 16.70
1.50 16.73
1.60 16.68
1.70 16.74
1.80 16.67
1.90 16.72
2.00 16.66
2.12 16.71
1.44 16.80
1.54 16.83
1.64 16.78
1.74 16.84
1.84 16.77
1.94 16.82
2.04 16.76
2.16 16.81
1.48 16.90
1.58 16.93
1.68 16.88
1.78 16.94
1.88 16.87
1.98 16.92
2.10 16.86
1.52 17.00
1.62 17.03
1.72 16.98
1.82 17.04
1.92 16.97
2.02 17.02
1.60 17.08
1.70 17.11
1.80 17.06
1.90 17.12
1.98 17.05
0.71 13.51
1.16 13.70
1.15 13.80
0.93 14.17
1.06 14.24
0.87 14.49
1.30 14.23
1.48 14.57
1.35 14.71
1.19 14.93
1.08 15.29
0.95 15.65
0.90 15.94
1.14 16.76
1.20 16.30
1.10 16.05
1.05 16.55
1.25 16.95
1.18 15.55
1.22 15.10
1.28 15.75
1.30 16.05
1.26 16.45
1.32 15.45
2.87 12.00
2.79 13.39
2.62 14.59
2.39 16.84
2.60 11.90
2.55 12.50
2.50 13.10
2.45 13.80
2.42 14.40
2.40 15.00
2.38 15.60
2.35 16.20
2.33 16.50
1.67 12.26
1.86 12.37
1.94 12.66
1.87 11.01
1.75 13.20
1.70 13.85
1.60 14.20
1.45 14.85
1.25 15.35
2.48 11.50
2.05 16.95
1.45 17.05
};
\addplot[gdots] table {
x y
2.23 11.16
2.34 11.13
2.45 11.17
2.18 11.28
2.29 11.25
2.40 11.29
2.51 11.24
2.25 11.40
2.36 11.37
2.47 11.41
2.16 11.52
2.29 11.49
2.42 11.53
2.22 11.64
2.34 11.61
2.47 11.65
2.14 11.76
2.26 11.73
2.38 11.77
2.20 11.88
2.32 11.85
2.44 11.89
2.11 12.00
2.24 11.97
2.36 12.01
2.16 12.12
2.28 12.09
2.41 12.13
2.07 12.24
2.20 12.21
2.32 12.25
2.12 12.36
2.24 12.33
2.37 12.37
2.04 12.48
2.16 12.45
2.28 12.49
2.08 12.60
2.20 12.57
2.33 12.61
2.00 12.72
2.12 12.69
2.24 12.73
2.04 12.84
2.16 12.81
2.29 12.85
1.98 12.96
2.10 12.93
2.22 12.97
2.01 13.07
2.11 13.04
2.21 13.08
2.32 13.03
1.95 13.17
2.05 13.14
2.15 13.18
2.25 13.13
1.99 13.27
2.09 13.24
2.19 13.28
2.29 13.23
1.93 13.37
2.03 13.34
2.13 13.38
2.23 13.33
1.97 13.47
2.07 13.44
2.17 13.48
2.27 13.43
1.91 13.57
2.01 13.54
2.11 13.58
2.21 13.53
2.31 13.56
1.95 13.67
2.05 13.64
2.15 13.68
2.25 13.63
1.89 13.77
1.99 13.74
2.09 13.78
2.19 13.73
2.29 13.76
1.93 13.87
2.03 13.84
2.13 13.88
2.23 13.83
1.85 13.97
1.95 13.94
2.05 13.98
2.15 13.93
2.25 13.96
1.89 14.07
1.99 14.04
2.09 14.08
2.19 14.03
2.29 14.06
1.83 14.17
1.93 14.14
2.03 14.18
2.13 14.13
2.23 14.16
1.79 14.27
1.89 14.24
1.99 14.28
2.09 14.23
2.19 14.26
2.28 14.22
1.83 14.37
1.93 14.34
2.03 14.38
2.13 14.33
2.23 14.36
1.75 14.47
1.85 14.44
1.95 14.48
2.05 14.43
2.15 14.46
2.25 14.42
1.71 14.57
1.81 14.54
1.91 14.58
2.01 14.53
2.11 14.56
2.21 14.52
1.67 14.67
1.77 14.64
1.87 14.68
1.97 14.63
2.07 14.66
2.17 14.62
2.26 14.67
1.71 14.77
1.81 14.74
1.91 14.78
2.01 14.73
2.11 14.76
2.21 14.72
1.63 14.87
1.73 14.84
1.83 14.88
1.93 14.83
2.03 14.86
2.13 14.82
2.23 14.87
1.59 14.97
1.69 14.94
1.79 14.98
1.89 14.93
1.99 14.96
2.09 14.92
2.19 14.97
1.55 15.07
1.65 15.04
1.75 15.08
1.85 15.03
1.95 15.06
2.05 15.02
2.15 15.07
2.24 15.05
1.51 15.17
1.61 15.14
1.71 15.18
1.81 15.13
1.91 15.16
2.01 15.12
2.11 15.17
2.21 15.15
1.47 15.27
1.57 15.24
1.67 15.28
1.77 15.23
1.87 15.26
1.97 15.22
2.07 15.27
2.17 15.25
1.53 15.34
1.63 15.38
1.73 15.33
1.83 15.36
1.93 15.32
2.03 15.37
2.13 15.35
2.23 15.34
1.49 15.44
1.59 15.48
1.69 15.43
1.79 15.46
1.89 15.42
1.99 15.47
2.09 15.45
2.19 15.44
1.55 15.58
1.65 15.53
1.75 15.56
1.85 15.52
1.95 15.57
2.05 15.55
2.16 15.54
1.41 15.67
1.51 15.64
1.61 15.68
1.71 15.63
1.81 15.66
1.91 15.62
2.01 15.67
2.11 15.65
1.53 15.78
1.63 15.73
1.73 15.76
1.83 15.72
1.93 15.77
2.03 15.75
2.14 15.74
1.49 15.88
1.59 15.83
1.69 15.86
1.79 15.82
1.89 15.87
1.99 15.85
2.09 15.84
1.45 15.94
1.55 15.98
1.65 15.93
1.75 15.96
1.85 15.92
1.95 15.97
2.06 15.95
2.18 15.94
1.51 16.08
1.61 16.03
1.71 16.06
1.81 16.02
1.91 16.07
2.01 16.05
2.11 16.04
1.47 16.14
1.57 16.18
1.67 16.13
1.77 16.16
1.87 16.12
1.97 16.17
2.08 16.15
2.20 16.14
1.43 16.24
1.53 16.28
1.63 16.23
1.73 16.26
1.83 16.22
1.93 16.27
2.03 16.25
2.14 16.24
1.39 16.37
1.49 16.34
1.59 16.38
1.69 16.33
1.79 16.36
1.89 16.32
1.99 16.37
2.10 16.35
1.45 16.44
1.55 16.48
1.65 16.43
1.75 16.46
1.85 16.42
1.95 16.47
2.05 16.45
2.16 16.44
1.41 16.57
1.51 16.54
1.61 16.58
1.71 16.53
1.81 16.56
1.91 16.52
2.01 16.57
2.12 16.55
1.47 16.64
1.57 16.68
1.67 16.63
1.77 16.66
1.87 16.62
1.97 16.67
2.08 16.65
2.20 16.64
1.45 16.77
1.55 16.74
1.65 16.78
1.75 16.73
1.85 16.76
1.95 16.72
2.06 16.77
1.49 16.87
1.59 16.84
1.69 16.88
1.79 16.83
1.89 16.86
1.99 16.82
2.10 16.87
1.53 16.97
1.63 16.94
1.73 16.98
1.83 16.93
1.93 16.96
2.04 16.92
1.57 17.07
1.67 17.04
1.77 17.08
1.87 17.03
1.97 17.06
};
\addplot[rrab] coordinates {(1.62,16.15)(1.80,16.12)(1.89,16.15)(1.67,16.32)(1.72,16.48)(2.20,16.40)};
\node[ttl] at (axis description cs:0.078,0.9096) {\textit{UKS} 1};
\end{axis}
% ---------------- Panel 7 : VVV-CL160
\begin{axis}[panel={516.91pt,23.85pt}, xmin=0.5, xmax=3.1, xtick={1,2,3}, xticklabels={1,2,3}]
\addplot[gdots] table {
x y
2.50 10.86
2.29 10.98
2.41 11.43
2.36 11.61
2.28 12.04
2.40 12.40
2.36 12.35
2.42 12.58
2.42 12.80
2.32 12.98
2.16 13.02
2.11 13.23
2.13 13.45
2.35 13.52
2.24 13.67
2.19 13.88
2.08 14.10
2.27 13.30
2.38 13.20
2.22 14.00
2.30 13.82
1.81 13.70
2.05 13.60
2.15 13.95
2.28 14.15
2.00 14.05
1.95 14.30
2.20 14.25
2.35 14.38
2.10 14.35
1.90 14.50
2.30 14.60
2.40 14.75
2.25 14.95
1.88 14.70
1.18 14.42
1.55 14.85
1.57 14.86
2.45 14.55
1.85 15.00
2.05 15.05
2.20 15.10
2.35 15.00
1.71 15.11
1.95 15.20
2.12 15.25
2.48 15.14
1.80 15.30
2.00 15.35
2.28 15.35
1.68 15.40
1.90 15.45
2.15 15.48
2.38 15.45
0.78 15.36
0.86 15.47
1.18 15.57
2.66 15.61
2.53 15.61
1.75 15.55
2.05 15.58
2.25 15.62
1.85 15.68
1.98 15.75
2.18 15.75
2.40 15.72
1.70 15.80
1.92 15.86
2.10 15.88
2.30 15.90
1.80 15.95
2.02 15.98
2.22 16.02
2.45 16.00
1.68 16.05
1.90 16.08
2.12 16.10
2.50 16.15
1.78 16.16
2.00 16.20
2.20 16.22
2.38 16.20
1.65 16.25
1.88 16.28
2.08 16.30
2.30 16.32
1.75 16.36
1.96 16.38
2.16 16.40
2.42 16.42
1.62 16.45
1.85 16.46
2.05 16.48
2.25 16.50
1.72 16.55
1.92 16.56
2.12 16.58
2.35 16.58
2.45 16.62
1.80 16.64
2.00 16.66
2.20 16.68
1.68 16.72
1.90 16.74
2.10 16.76
2.30 16.76
1.78 16.82
1.98 16.84
2.18 16.86
2.40 16.85
1.86 16.92
2.06 16.94
2.26 16.95
1.73 16.98
1.94 17.00
2.14 17.02
1.84 17.06
2.04 17.08
2.22 17.05
1.95 17.13
0.88 16.37
1.28 16.22
1.31 16.48
1.44 16.51
1.33 17.02
1.60 17.16
1.50 16.80
1.45 16.10
1.55 15.70
1.40 15.90
1.62 16.95
1.58 16.30
1.35 15.40
2.55 16.35
2.60 16.90
2.52 15.30
2.58 14.90
1.62 14.60
2.45 13.90
2.32 11.95
2.45 12.15
};
\addplot[rrab] coordinates {(1.80,14.23)(2.03,14.49)(1.96,14.82)(2.14,14.82)};
\addplot[dub] coordinates {(1.80,14.23)};
\node[ttl] at (axis description cs:0.080,0.9096) {\textit{VVV}\hspace{0.18em}−\hspace{0.18em}\textit{CL160}};
\end{axis}
\end{tikzpicture}
\end{document}
